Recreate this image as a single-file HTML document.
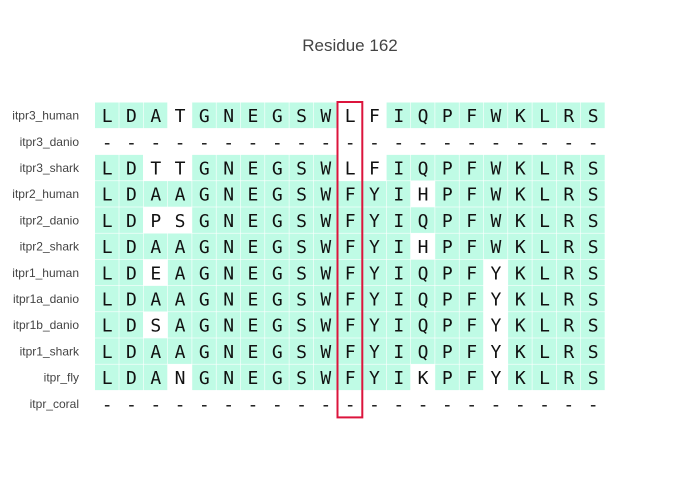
<!DOCTYPE html>
<html><head><meta charset="utf-8"><style>
body{margin:0;background:#fff;width:700px;height:500px;overflow:hidden}
svg{display:block}
</style></head><body>
<svg id="chart" width="700" height="500">
<text x="350" y="51" text-anchor="middle" font-family="Liberation Sans, sans-serif" font-size="17" fill="#444">Residue 162</text>
<g id="cells"></g><g id="labels"></g>
</svg>
<script>
const sequences = ["itpr3_human","itpr3_danio","itpr3_shark","itpr2_human","itpr2_danio","itpr2_shark","itpr1_human","itpr1a_danio","itpr1b_danio","itpr1_shark","itpr_fly","itpr_coral"];
const residues = [
"LDATGNEGSWLFIQPFWKLRS",
"---------------------",
"LDTTGNEGSWLFIQPFWKLRS",
"LDAAGNEGSWFYIHPFWKLRS",
"LDPSGNEGSWFYIQPFWKLRS",
"LDAAGNEGSWFYIHPFWKLRS",
"LDEAGNEGSWFYIQPFYKLRS",
"LDAAGNEGSWFYIQPFYKLRS",
"LDSAGNEGSWFYIQPFYKLRS",
"LDAAGNEGSWFYIQPFYKLRS",
"LDANGNEGSWFYIKPFYKLRS",
"---------------------"];
const highlightCol = 10;
const NS="http://www.w3.org/2000/svg";
const x0=95, cw=24.3, y0=102.5, rh=26.2;
const cells=document.getElementById('cells'), labels=document.getElementById('labels');
const nc=residues[0].length;
const mode=[];
for(let c=0;c<nc;c++){const cnt={};residues.forEach(r=>{const ch=r[c];if(ch!=='-')cnt[ch]=(cnt[ch]||0)+1;});let b=null,bn=0;for(const k in cnt)if(cnt[k]>bn){bn=cnt[k];b=k;}mode.push(b);}
residues.forEach((row,ri)=>{
  const t=document.createElementNS(NS,'text');
  t.setAttribute('x',79);t.setAttribute('y',y0+rh*ri+rh/2+4);
  t.setAttribute('text-anchor','end');t.setAttribute('font-family','Liberation Sans, sans-serif');
  t.setAttribute('font-size','12');t.setAttribute('fill','#444');t.textContent=sequences[ri];
  
  
  labels.appendChild(t);
  for(let c=0;c<nc;c++){
    const ch=row[c];
    if(ch===mode[c]){
      const r=document.createElementNS(NS,'rect');
      r.setAttribute('x',x0+cw*c);r.setAttribute('y',y0+rh*ri);
      r.setAttribute('width',cw-0.6);r.setAttribute('height',rh-0.6);r.setAttribute('fill','#bffbe5');
      
      
      cells.appendChild(r);
    }
    const tx=document.createElementNS(NS,'text');
    tx.setAttribute('x',x0+cw*c+cw/2);tx.setAttribute('y',y0+rh*ri+rh/2+6.5);
    tx.setAttribute('text-anchor','middle');tx.setAttribute('font-family','DejaVu Sans Mono, Liberation Mono, monospace');
    tx.setAttribute('font-size','18');tx.setAttribute('fill','#111');tx.textContent=ch;
    
    
    cells.appendChild(tx);
  }
});
const box=document.createElementNS(NS,'rect');
box.setAttribute('x',x0+cw*highlightCol-0.5);box.setAttribute('y',y0-0.5);
box.setAttribute('width',cw+0.5);box.setAttribute('height',rh*residues.length+1);
box.setAttribute('fill','none');box.setAttribute('stroke','#dc143c');box.setAttribute('stroke-width','2');


cells.appendChild(box);
</script>
</body></html>
